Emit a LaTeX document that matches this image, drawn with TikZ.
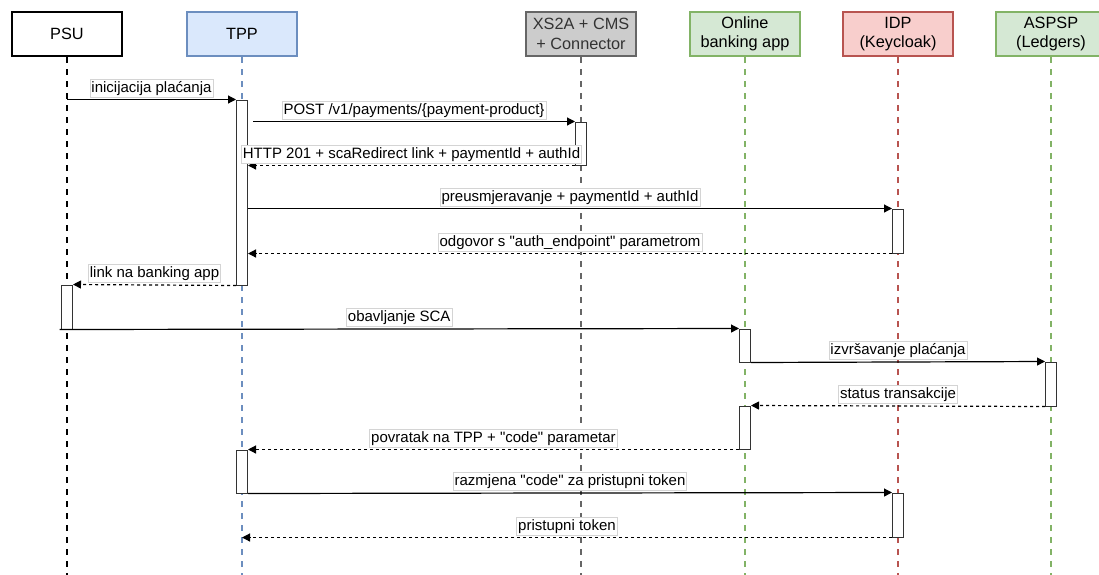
\documentclass[tikz,border=0pt]{standalone}
\usepackage{fontspec}
\setmainfont{Liberation Sans}[Ligatures=TeXOff]
\usetikzlibrary{arrows.meta}

\definecolor{tppfill}{HTML}{DAE8FC}
\definecolor{tppline}{HTML}{6C8EBF}
\definecolor{xsfill}{HTML}{CCCCCC}
\definecolor{xsline}{HTML}{666666}
\definecolor{appfill}{HTML}{D5E8D4}
\definecolor{appline}{HTML}{82B366}
\definecolor{idpfill}{HTML}{F8CECC}
\definecolor{idpline}{HTML}{B85450}
\definecolor{lblline}{HTML}{D4D4D4}

\tikzset{
  actor/.style={draw, line width=2pt, minimum width=110pt, minimum height=44pt, inner sep=0pt, align=center, font=\fontsize{16.3}{19.5}\selectfont},
  lifeline/.style={line width=2pt, dash pattern=on 6pt off 6pt},
  bar/.style={draw=black!80, fill=white, line width=1pt, minimum width=11pt, inner sep=0pt},
  msg/.style={line width=1.2pt, -{Triangle[length=8pt,width=8pt]}},
  reply/.style={msg, dash pattern=on 3pt off 3pt},
  lbl/.style={above=2pt, solid, fill=white, draw=lblline, line width=0.8pt, inner sep=1.5pt, text height=11.5pt, text depth=3.5pt, font=\fontsize{15}{18}\selectfont}
}

\begin{document}
\begin{tikzpicture}[x=1pt,y=-1pt]
\useasboundingbox (0,0) rectangle (1099,574);
\clip (0,0) rectangle (1099,574);

\node[actor, fill=white] (psu) at (67,34) {PSU};
\node[actor, fill=tppfill, draw=tppline] (tpp) at (242,34) {TPP};
\node[actor, fill=xsfill, draw=xsline, text=black!80] (xs) at (581,34) {XS2A + CMS\\+ Connector};
\node[actor, fill=appfill, draw=appline] (app) at (745,34) {Online\\banking app};
\node[actor, fill=idpfill, draw=idpline] (idp) at (898,34) {IDP\\(Keycloak)};
\node[actor, fill=appfill, draw=appline] (aspsp) at (1051,34) {ASPSP\\(Ledgers)};

\coordinate (bottom) at (0,578);
\foreach \n/\c in {psu/black, tpp/tppline, xs/xsline, app/appline, idp/idpline, aspsp/appline}
  \draw[lifeline, draw=\c] (\n.south) -- (\n.south |- bottom);

\node[bar, minimum height=185pt] (tpp1) at (242,192.5) {};
\node[bar, minimum height=43pt] (xs1) at (581,143.5) {};
\node[bar, minimum height=44pt] (idp1) at (898,231) {};
\node[bar, minimum height=44pt] (psu1) at (67,307) {};
\node[bar, minimum height=33pt] (app1) at (745,345.5) {};
\node[bar, minimum height=44pt] (aspsp1) at (1051,384) {};
\node[bar, minimum height=43pt] (app2) at (745,427.5) {};
\node[bar, minimum height=43pt] (tpp2) at (242,471.5) {};
\node[bar, minimum height=44pt] (idp2) at (898,515) {};

\draw[msg] (psu |- tpp1.north) -- node[lbl] {inicijacija plaćanja} (tpp1.north west);
\draw[msg] ([xshift=5pt]tpp1.east |- xs1.north) -- node[lbl] {POST /v1/payments/\{payment-product\}} (xs1.north west);
\draw[reply] (xs1.south west) -- node[lbl] {HTTP 201 + scaRedirect link + paymentId + authId} (tpp1.east |- xs1.south);
\draw[msg] (tpp1.east |- idp1.north) -- node[lbl] {preusmjeravanje + paymentId + authId} (idp1.north west);
\draw[reply] (idp1.south west) -- node[lbl] {odgovor s "auth\_endpoint" parametrom} (tpp1.east |- idp1.south);
\draw[reply] (tpp1.south west) -- node[lbl] {link na banking app} (psu1.north east);
\draw[msg] ([xshift=-1.5pt]psu1.south west) -- node[lbl] {obavljanje SCA} (app1.north west);
\draw[msg] (app1.south east) -- node[lbl] {izvršavanje plaćanja} (aspsp1.north west);
\draw[reply] (aspsp1.south west) -- node[lbl] {status transakcije} (app2.north east);
\draw[reply] (app2.south west) -- node[lbl] {povratak na TPP + "code" parametar} (tpp2.north east);
\draw[msg] (tpp2.south east) -- node[lbl] {razmjena "code" za pristupni token} (idp2.north west);
\draw[reply] (idp2.south west) -- node[lbl] {pristupni token} (tpp |- idp2.south);
\end{tikzpicture}
\end{document}
